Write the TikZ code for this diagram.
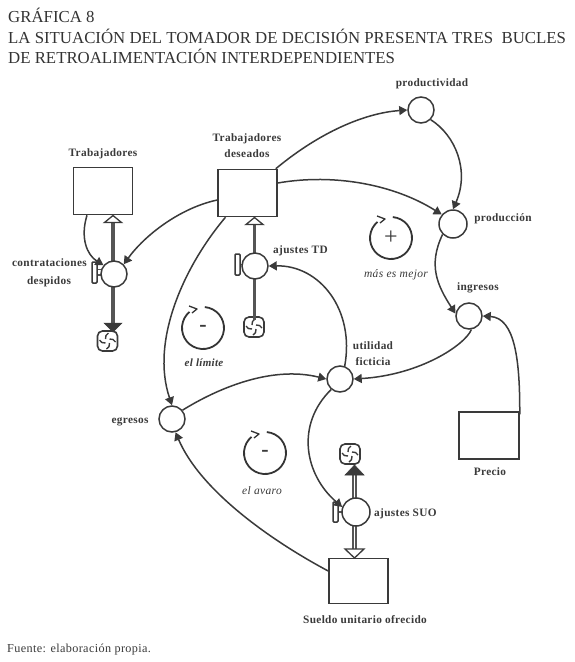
\documentclass[tikz,border=0pt]{standalone}
\usepackage{fontspec}
\setmainfont{Liberation Serif}
\usetikzlibrary{arrows.meta,calc}
\definecolor{ink}{HTML}{3A3A3A}
\definecolor{pipe}{HTML}{555555}
\newfontfamily\lab[LetterSpace=3]{Liberation Serif}
\tikzset{
  stock/.style={draw=ink,line width=1.5pt,fill=white,minimum width=59pt,minimum height=47pt,inner sep=0pt},
  aux/.style={draw=ink,circle,line width=1.5pt,fill=white,minimum size=26pt,inner sep=0pt},
  lbl/.style={text=ink,font=\lab\bfseries\fontsize{11.3}{13}\selectfont,inner sep=0pt,align=center},
  ital/.style={text=ink,font=\lab\itshape\fontsize{11.5}{13}\selectfont,inner sep=0pt},
  title/.style={text=black!80,font=\fontsize{16.8}{19}\selectfont,inner sep=0pt,anchor=base west},
  link/.style={draw=ink,line width=1.5pt,-{Triangle[length=8pt,width=9pt]}},
  pipeline/.style={draw=pipe,line width=3.4pt},
  hollow/.style={draw=ink,fill=white,line width=1.3pt},
  solidtip/.style={draw=ink,fill=ink,line width=.5pt},
  handle/.style={draw=ink,fill=white,line width=1.5pt,rounded corners=1pt,minimum width=5pt,minimum height=21pt,inner sep=0pt},
  cloudbox/.style={draw=ink,line width=1.6pt,fill=white,rounded corners=5pt,minimum size=20pt,inner sep=0pt,
    path picture={
      \draw[ink,line width=1.4pt] (path picture bounding box.center) ++(-8,-1) to[bend right=35] ++(6,3);
      \draw[ink,line width=1.4pt] (path picture bounding box.center) ++(1,-8) to[bend right=35] ++(-3,6);
      \draw[ink,line width=1.4pt] (path picture bounding box.center) ++(8,1) to[bend right=35] ++(-6,-3);
      \draw[ink,line width=1.4pt] (path picture bounding box.center) ++(-1,8) to[bend right=35] ++(3,-6);
    }},
  signnode/.style={text=ink,inner sep=0pt,minimum size=40pt,circle},
  loopline/.style={draw=ink!90!black,line width=1.8pt},
}
\begin{document}
\begin{tikzpicture}[x=1pt,y=-1pt]
\useasboundingbox[fill=white] (0,0) rectangle (575,662);

% title
\node[title] (t1) at (8,22) {GRÁFICA 8};
\node[title] (t2) at (8,43) {LA SITUACIÓN DEL TOMADOR DE DECISIÓN PRESENTA TRES\ \ BUCLES};
\node[title] (t3) at (8,63) {DE RETROALIMENTACIÓN INTERDEPENDIENTES};

% stocks
\node[stock] (trab) at (103,191) {};
\node[stock] (des) at (247.5,193) {};
\node[stock,minimum width=60pt] (precio) at (489,435.5) {};
\node[stock,minimum height=45pt] (sueldo) at (358.5,581) {};

% clouds
\node[cloudbox] (c1) at (107.5,341) {};
\node[cloudbox] (c2) at (254,327) {};
\node[cloudbox] (c3) at (350,454) {};

% pipes
\draw[pipeline] (113,222) -- (113,324);
\draw[pipeline] (254.5,224) -- (254.5,320);
\draw[draw=pipe,line width=5.5pt] (354.5,475) -- (354.5,549);
\draw[draw=white,line width=1.6pt] (354.5,475) -- (354.5,549);

% flow tips
\draw[hollow] (113,215.5) -- (121.5,222.5) -- (104.5,222.5) -- cycle;
\draw[hollow] (254.5,217.5) -- (263,224.5) -- (246,224.5) -- cycle;
\draw[solidtip] (113,332) -- (104,323) -- (122,323) -- cycle;
\draw[solidtip] (354.5,465) -- (345,475) -- (364,475) -- cycle;
\draw[hollow] (354.5,558) -- (345,549) -- (364,549) -- cycle;

% valves
\node[handle,minimum height=21pt] (h1) at (94.5,272.5) {};
\node[handle] (h2) at (237.5,264.5) {};
\node[handle,minimum height=20pt] (h3) at (335.5,512) {};
\draw[draw=pipe,line width=1.2pt] (h1.east) ++(0,-3) -- ++(8,0) (h1.east) ++(0,2.5) -- ++(8,0);
\draw[draw=pipe,line width=1.2pt] (h2.east) -- ++(8,0);
\draw[draw=pipe,line width=1.2pt] (h3.east) -- ++(8,0);
\node[aux] (con) at (114,274) {};
\node[aux] (atd) at (255,266) {};
\node[aux,minimum size=28pt] (asuo) at (356,512) {};

% auxiliaries
\node[aux] (prod) at (421,110) {};
\node[aux,minimum size=28pt] (pcion) at (453,224) {};
\node[aux] (ing) at (469,316) {};
\node[aux] (util) at (340,379) {};
\node[aux] (egr) at (172,419) {};

% connectors
\draw[link] (des.north east) ++(-2,0) .. controls (320,132) and (365,113) .. (prod.west);
\draw[link] (des.east |- 0,183) .. controls (335,173) and (395,185) .. (pcion.140);
\draw[link] (trab.south) ++(-16,0) .. controls (80,238) and (87,255) .. (con.140);
\draw[link] (des.west |- 0,200) .. controls (180,208) and (145,235) .. (con.45);
\draw[link] (des.south) ++(-22,0) .. controls (185,265) and (150,340) .. (egr.north);
\draw[link] (prod.-45) .. controls (455,135) and (470,170) .. (pcion.north);
\draw[link] (pcion.-135) .. controls (428,265) and (437,285) .. (ing.170);
\draw[link] (ing.-80) .. controls (465,345) and (420,375) .. (util.east);
\draw[link] (precio.north east) ++(0,3) .. controls (520,360) and (515,318) .. (ing.east);
\draw[link] (util.70) .. controls (355,310) and (320,265) .. (atd.east);
\draw[link] (egr.40) .. controls (215,390) and (270,365) .. (util.west);
\draw[link] (util.-130) .. controls (295,425) and (305,475) .. (asuo.160);
\draw[link] (sueldo.west |- 0,571) .. controls (270,540) and (200,490) .. (egr.-75);

% labels
\node[lbl] (ltrab) at (103,154) {Trabajadores};
\node[lbl] (ldes) at (247,145.5) {Trabajadores\\[3.5pt]deseados};
\node[lbl,anchor=east] (lcon) at (87,263) {contrataciones};
\node[lbl] (ldesp) at (49,282) {despidos};
\node[lbl] (lprod) at (432,84) {productividad};
\node[lbl] (lpcion) at (503,219) {producción};
\node[lbl] (ling) at (478,288) {ingresos};
\node[lbl,anchor=west] (latd) at (273,251) {ajustes TD};
\node[lbl] (lutil) at (373,353.5) {utilidad\\[3.5pt]ficticia};
\node[lbl] (legr) at (130,422) {egresos};
\node[lbl] (lprecio) at (490,472) {Precio};
\node[lbl,anchor=west] (lsuo) at (374,514) {ajustes SUO};
\node[lbl] (lsueldo) at (365,620) {Sueldo unitario ofrecido};
\node[ital,font=\lab\bfseries\itshape\fontsize{11}{13}\selectfont] (llim) at (204,363) {el límite};
\node[ital] (lmas) at (396,275) {más es mejor};
\node[ital] (lava) at (262,491) {el avaro};
\node[text=ink,font=\lab\fontsize{12.2}{14}\selectfont,inner sep=0pt,anchor=base west] (fte) at (7,652) {Fuente: elaboración propia.};

% loop markers
\node[signnode,font=\fontsize{24}{24}\selectfont] (l1) at (391,238) {+};
\node[signnode,font=\bfseries\fontsize{22}{22}\selectfont] (l2) at (203,328) {-};
\node[signnode,font=\bfseries\fontsize{22}{22}\selectfont] (l3) at (265,453) {-};
\foreach \n in {l1,l2,l3}{
  \draw[loopline] (\n.center) ++(-85:21) arc[start angle=-85,end angle=230,radius=21];
  \draw[loopline,line width=1.3pt,line join=round] (\n.center) ++(-14,-22) -- ++(8,3) -- ++(-5,4);
}
\end{tikzpicture}
\end{document}
